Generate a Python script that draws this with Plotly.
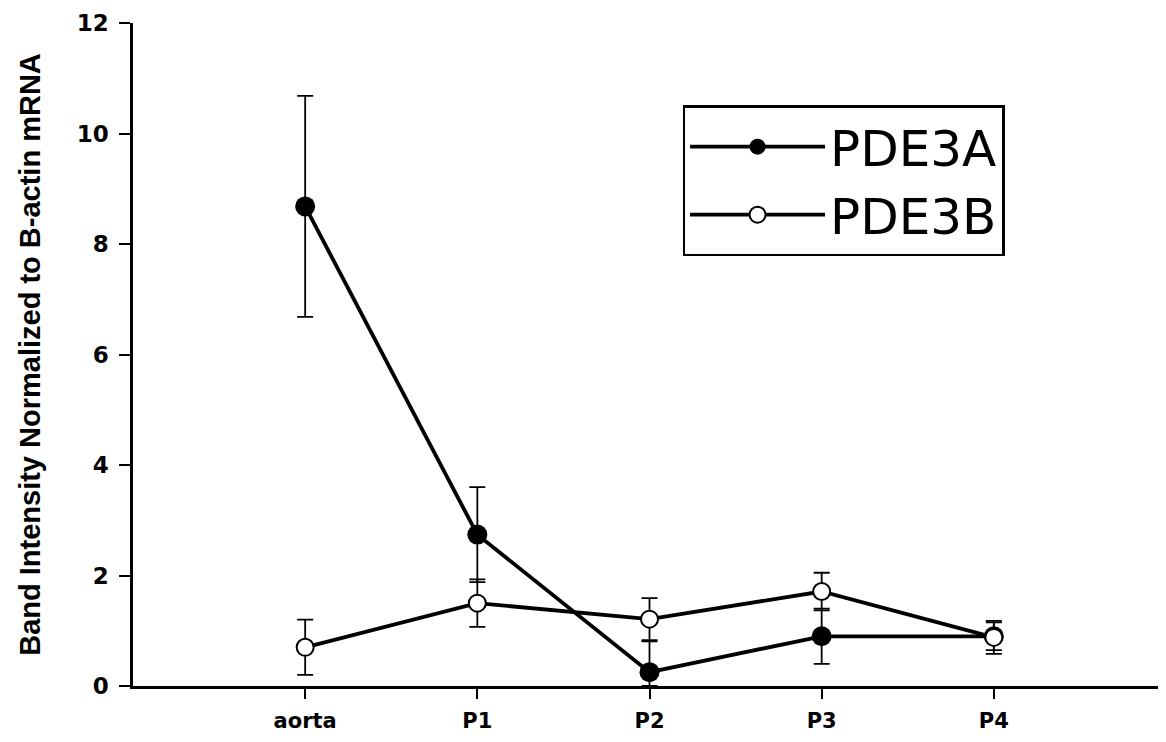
import plotly.graph_objects as go

categories = ["aorta", "P1", "P2", "P3", "P4"]
pde3a = [8.68, 2.74, 0.25, 0.90, 0.90]
pde3a_err_up = [2.00, 0.86, 0.56, 0.50, 0.25]
pde3a_err_down = [2.00, 0.86, 0.25, 0.50, 0.25]
pde3b = [0.70, 1.50, 1.21, 1.71, 0.88]
pde3b_err = [0.50, 0.43, 0.38, 0.34, 0.30]
y_ticks = [0, 2, 4, 6, 8, 10, 12]

fig = go.Figure()
fig.add_trace(go.Scatter(
    x=categories, y=pde3a, name="PDE3A", mode="lines+markers",
    line=dict(color="black", width=3.8),
    marker=dict(symbol="circle", size=20, color="black"),
    error_y=dict(type="data", array=pde3a_err_up, arrayminus=pde3a_err_down,
                 color="black", thickness=1.8, width=8),
))
fig.add_trace(go.Scatter(
    x=categories, y=pde3b, name="PDE3B", mode="lines+markers",
    line=dict(color="black", width=3.8),
    marker=dict(symbol="circle", size=17, color="white",
                line=dict(color="black", width=2)),
    error_y=dict(type="data", array=pde3b_err, color="black", thickness=1.8, width=8),
))

# page body has an 8px margin, so the figure is sized to fit the window
fig.update_layout(
    width=1158, height=734,
    margin=dict(l=125, r=0, t=15, b=56, autoexpand=False),
    paper_bgcolor="white", plot_bgcolor="white",
    showlegend=True,
    legend=dict(
        x=0.532, y=0.876, xanchor="left", yanchor="top",
        bordercolor="black", borderwidth=2.5, bgcolor="white",
        font=dict(family="DejaVu Sans, Arial", size=50, color="black"),
        itemwidth=135,
    ),
    xaxis=dict(
        type="category", range=[-1, 5], automargin=False,
        showline=True, linecolor="black", linewidth=2.5,
        ticks="outside", ticklen=10, tickwidth=2, tickcolor="black",
        ticklabelstandoff=4,
        tickfont=dict(family="DejaVu Sans", size=21, color="black", weight="bold"),
        showgrid=False, zeroline=False,
    ),
    yaxis=dict(
        range=[0, 12], tickvals=y_ticks, automargin=False,
        showline=True, linecolor="black", linewidth=2.5,
        ticks="outside", ticklen=11, tickwidth=2, tickcolor="black",
        ticklabelstandoff=6, ticklabeloverflow="allow",
        tickfont=dict(family="DejaVu Sans", size=23, color="black", weight="bold"),
        showgrid=False, zeroline=False,
        title=dict(text="Band Intensity Normalized to B-actin mRNA",
                   font=dict(family="Arial, Liberation Sans", size=29, color="black", weight="bold"),
                   standoff=28),
    ),
)

fig.write_html("out.html")
